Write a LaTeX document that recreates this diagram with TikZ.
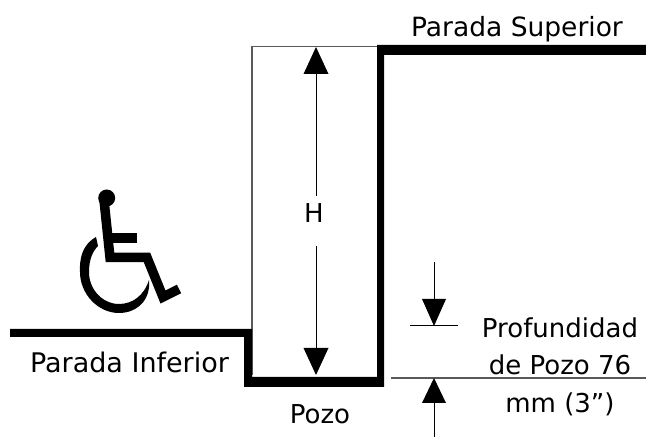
\documentclass[tikz,border=0pt]{standalone}
\usepackage{fontspec}
\setmainfont{DejaVu Sans}
\begin{document}
\begin{tikzpicture}[x=1pt,y=-1pt,
  wall/.style={fill=black,draw=none},
  thin rule/.style={line width=1.2pt,draw=black!65},
  dim/.style={line width=1pt},
  tip/.style={fill=black,draw=none},
  chair/.style={line width=9.5pt,line join=miter},
  lbl/.style={font=\fontsize{26pt}{37.5pt}\selectfont,inner sep=0pt,align=center}]
\useasboundingbox (0,0) rectangle (646,438);
% shaft outline
\coordinate (ptl) at (252,46.5);
\coordinate (ptr) at (380,46.5);
\coordinate (pbl) at (252,375);
\draw[thin rule] (pbl) -- (ptl) -- (ptr);
% walls
\fill[wall] (10,329) -- (252,329) -- (252,377) -- (377,377) -- (377,45) -- (646,45)
  -- (646,55) -- (384,55) -- (384,387) -- (244,387) -- (244,337) -- (10,337) -- cycle;
% H dimension
\node[lbl] (h) at (314,213) {H};
\coordinate (ha) at (316,47);
\coordinate (hb) at (316,375);
\draw[dim] (316,74) -- (316,196);
\draw[dim] (316,246) -- (316,348);
\fill[tip] (ha) -- (303.5,74) -- (328.5,74) -- cycle;
\fill[tip] (hb) -- (303.5,348) -- (328.5,348) -- cycle;
% depth dimension
\coordinate (r1a) at (391,378);
\coordinate (r1b) at (646,378);
\draw[thin rule] (r1a) -- (r1b);
\coordinate (r2a) at (410,326);
\coordinate (r2b) at (458,326);
\draw[dim] (r2a) -- (r2b);
\draw[dim] (434,262) -- (434,299);
\fill[tip] (434,326) -- (422,299) -- (446,299) -- cycle;
\draw[dim] (434,403) -- (434,437);
\fill[tip] (434,378) -- (422,403) -- (446,403) -- cycle;
% wheelchair symbol
\fill (106.7,198) circle (8.5);
\draw[chair] (104,200) -- (110,257.5) -- (147,257.5) -- (163,297) -- (179,289);
\draw[chair] (108,238) -- (136.5,238);
\fill[even odd rule] (96,237) .. controls (78,247) and (80,268) .. (80,272)
  .. controls (80,294) and (98,313) .. (119,313)
  .. controls (136,313) and (151,301) .. (149,280)
  .. controls (144,296) and (132,304) .. (119,304)
  .. controls (103,304) and (89,290) .. (89,272)
  .. controls (89,259) and (93,251) .. (98,246) -- cycle;
% labels
\node[lbl,font=\fontsize{26.5pt}{30pt}\selectfont] (top) at (517,29.5) {Parada Superior};
\node[lbl,font=\fontsize{27pt}{30pt}\selectfont] (low) at (129.5,362) {Parada Inferior};
\node[lbl] (poz) at (320,414) {Pozo};
\node[lbl] (dep) at (560,366.5) {Profundidad\\de Pozo 76\\mm (3”)};
\end{tikzpicture}
\end{document}
